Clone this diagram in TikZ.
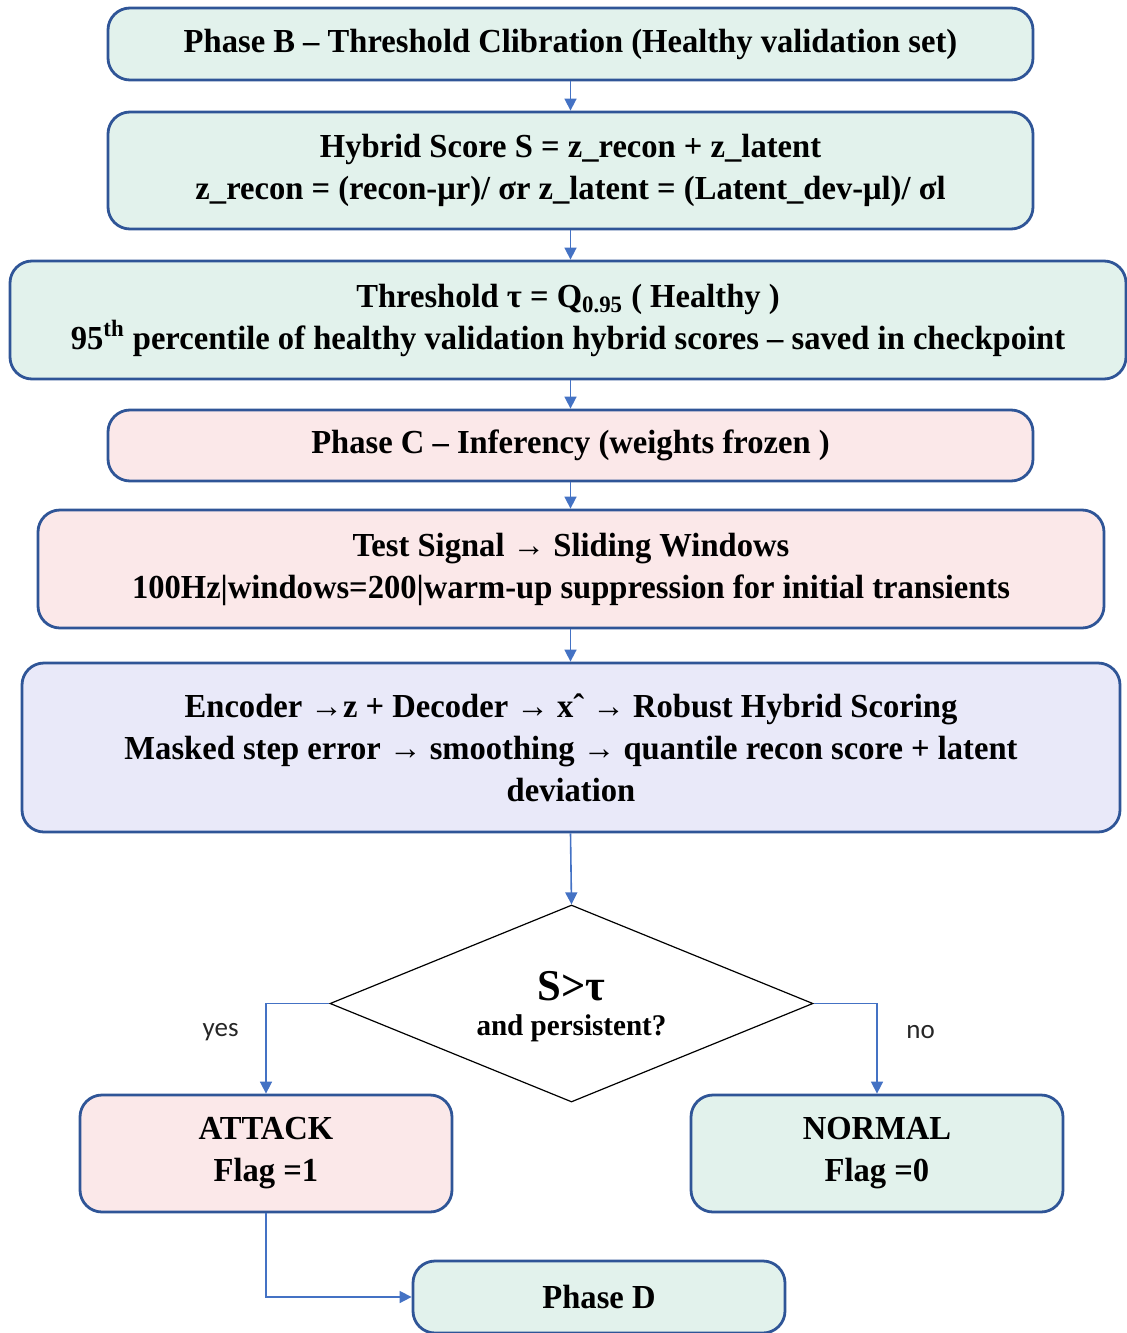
\documentclass[tikz,border=0pt]{standalone}
\usepackage{fontspec}
\setmainfont[FakeStretch=0.97]{Liberation Serif}
\newfontfamily\labelfont{Carlito}
\usetikzlibrary{shapes.geometric,arrows.meta}
\definecolor{edgeblue}{HTML}{2F5597}
\definecolor{linkblue}{HTML}{4472C4}
\definecolor{mint}{HTML}{E2F2EC}
\definecolor{blush}{HTML}{FBE8E9}
\definecolor{lilac}{HTML}{E9E9F9}
\tikzset{
  stage/.style={draw=edgeblue, line width=1.4pt, rounded corners=11pt,
    align=center, font=\fontsize{16.8}{21}\selectfont\bfseries, inner sep=0pt},
  link/.style={draw=linkblue, line width=0.8pt, -{Triangle[length=6pt,width=6pt]}},
  decide/.style={draw=black, line width=0.6pt, diamond, aspect=2.45, fill=white,
    align=center, inner sep=0pt},
  branch/.style={font=\labelfont\fontsize{13.5}{15}\selectfont, text=black!85},
}
\begin{document}
\begin{tikzpicture}[x=0.5pt,y=-0.5pt]
\useasboundingbox (0,0) rectangle (1126,1333);
% stacked pipeline stages
\node[stage, fill=mint, minimum width=462.5pt, minimum height=36pt] (phaseb) at (570.5,44)
  {Phase B -- Threshold Clibration (Healthy validation set)};
\node[stage, fill=mint, minimum width=462.5pt, minimum height=58.5pt] (hybrid) at (570.5,170.5)
  {Hybrid Score S = z\_recon + z\_latent\\ z\_recon = (recon-μr)/ σr z\_latent = (Latent\_dev-μl)/ σl};
\node[stage, fill=mint, minimum width=558pt, minimum height=59pt] (thresh) at (568,320)
  {Threshold τ = Q\textsubscript{0.95} ( Healthy )\\ 95\textsuperscript{th} percentile of healthy validation hybrid scores -- saved in checkpoint};
\node[stage, fill=blush, minimum width=462.5pt, minimum height=35.5pt] (phasec) at (570.5,445.5)
  {Phase C -- Inferency (weights frozen )};
\node[stage, fill=blush, minimum width=533pt, minimum height=59pt] (signal) at (571,569)
  {Test Signal → Sliding Windows\\ 100Hz|windows=200|warm-up suppression for initial transients};
\node[stage, fill=lilac, minimum width=549pt, minimum height=84.5pt] (scoring) at (571,747.5)
  {Encoder →z + Decoder → xˆ → Robust Hybrid Scoring\\ Masked step error → smoothing → quantile recon score + latent\\ deviation};
% decision
\node[decide, minimum width=241.5pt, minimum height=98.5pt] (check) at (571.5,1003.5) {};
\node[font=\fontsize{22}{25}\selectfont\bfseries] (cond) at (571.5,986) {S>τ};
\node[font=\fontsize{15}{17}\selectfont\bfseries] (persist) at (571.5,1028) {and persistent?};
% outcomes
\node[stage, fill=blush, minimum width=186pt, minimum height=58.5pt] (attack) at (266,1153.5)
  {ATTACK\\ Flag =1};
\node[stage, fill=mint, minimum width=186pt, minimum height=58.5pt] (normal) at (877,1153.5)
  {NORMAL\\ Flag =0};
\node[stage, fill=mint, minimum width=186pt, minimum height=36pt] (phased) at (599,1297)
  {Phase D};
% connectors
\draw[link] (phaseb) -- (hybrid);
\draw[link] (hybrid.south) -- (hybrid.south |- thresh.north);
\draw[link] (thresh.south -| phasec.north) -- (phasec.north);
\draw[link] (phasec) -- (signal.north -| phasec.south);
\draw[link] (signal.south -| phasec.south) -- (scoring.north -| phasec.south);
\draw[link] (scoring.south -| phasec.south) -- (check.north);
\draw[link] (check.west) -| (attack.north) node[branch, pos=0.66, left=10pt] {yes};
\draw[link] (check.east) -| (normal.north) node[branch, pos=0.66, right=11pt] {no};
\draw[link] (attack.south) |- (phased.west);
\end{tikzpicture}
\end{document}
